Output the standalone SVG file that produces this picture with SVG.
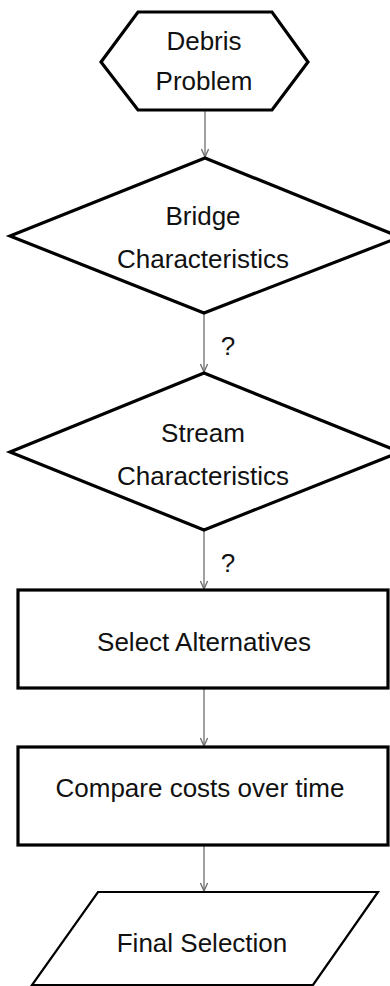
<svg xmlns="http://www.w3.org/2000/svg" width="390" height="986" viewBox="0 0 390 986">
<defs>
<style>
.shape{fill:#fff;stroke:#000;stroke-width:3.2;stroke-linejoin:miter}
.thin{stroke-width:2.2}
.lbl{font-family:"Liberation Sans",Arial,sans-serif;font-size:26px;fill:#111;text-anchor:middle}
.conn{stroke:#6e6e6e;stroke-width:1.3;fill:none}
</style>
<marker id="arr" viewBox="0 0 10 10" refX="10" refY="5" markerWidth="9" markerHeight="9" markerUnits="userSpaceOnUse" orient="auto">
<path d="M1,1 L10,5 L1,9" fill="none" stroke="#6e6e6e" stroke-width="1.5"/>
</marker>
</defs>
<rect width="390" height="986" fill="#fff"/>
<g id="connectors">
<line class="conn" x1="205" y1="111" x2="205" y2="157" marker-end="url(#arr)"/>
<line class="conn" x1="204" y1="314" x2="204" y2="372" marker-end="url(#arr)"/>
<line class="conn" x1="204" y1="531" x2="204" y2="589" marker-end="url(#arr)"/>
<line class="conn" x1="204" y1="689" x2="204" y2="746" marker-end="url(#arr)"/>
<line class="conn" x1="204" y1="846" x2="204" y2="891" marker-end="url(#arr)"/>
<text class="lbl" x="228" y="355">?</text>
<text class="lbl" x="228" y="572">?</text>
</g>
<g id="debris-problem">
<polygon class="shape" points="138,12 272,12 308,62 272,110 138,110 101,62"/>
<text class="lbl" x="204" y="50">Debris</text>
<text class="lbl" x="204" y="90">Problem</text>
</g>
<g id="bridge-characteristics">
<polygon class="shape" points="205,158 400,237 204,313 10,236"/>
<text class="lbl" x="203" y="225">Bridge</text>
<text class="lbl" x="203" y="268">Characteristics</text>
</g>
<g id="stream-characteristics">
<polygon class="shape" points="204,373 400,452 204,530 10,452"/>
<text class="lbl" x="203" y="442">Stream</text>
<text class="lbl" x="203" y="485">Characteristics</text>
</g>
<g id="select-alternatives">
<rect class="shape" x="18" y="590" width="370" height="98"/>
<text class="lbl" x="204" y="651">Select Alternatives</text>
</g>
<g id="compare-costs">
<rect class="shape" x="18" y="747" width="370" height="98"/>
<text class="lbl" x="200" y="797">Compare costs over time</text>
</g>
<g id="final-selection">
<polygon class="shape thin" points="98,892 378,892 313,985 32,985"/>
<text class="lbl" x="202" y="952">Final Selection</text>
</g>
</svg>
